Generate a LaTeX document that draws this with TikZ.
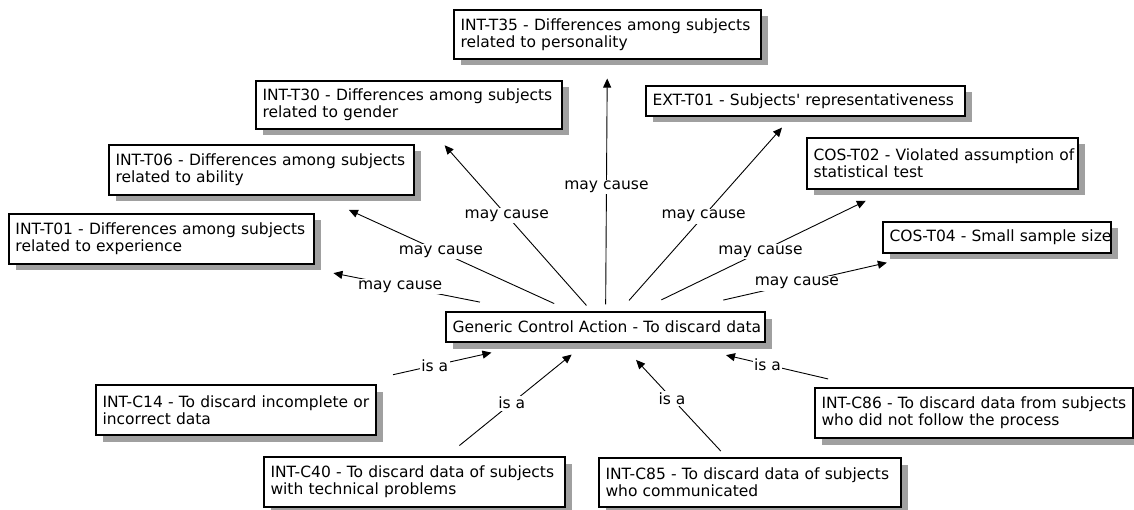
\documentclass[tikz,border=0pt]{standalone}
\usepackage{fontspec}
\setmainfont{DejaVu Sans}[Ligatures=TeXOff]
\usetikzlibrary{arrows.meta,shadows}
\definecolor{shadowgray}{HTML}{A0A0A0}
\newcommand\lbx[1]{\mbox{#1}}
\begin{document}
\begin{tikzpicture}[x=1pt,y=-1pt,
  txt/.style={font=\fontsize{15.5}{17}\selectfont},
  box/.style={txt, draw=black, line width=1.1pt, fill=white, align=left,
    inner xsep=6.5pt, inner ysep=0pt, anchor=center,
    drop shadow={shadow xshift=6.5pt, shadow yshift=-6.5pt, fill=shadowgray, opacity=1}},
  arr/.style={-{Triangle[length=9pt,width=8pt]}, line width=0.9pt},
  lbl/.style={txt, fill=white, inner sep=1.5pt}
]
\useasboundingbox (0,0) rectangle (1134,510);

% top-side threats
\node[box, text width=294pt, minimum height=49pt] (t35) at (607.5,34.5) {\lbx{INT-T35 - Differences among subjects}\\\lbx{related to personality}};
\node[box, text width=293pt, minimum height=48pt] (t30) at (409,105) {\lbx{INT-T30 - Differences among subjects}\\\lbx{related to gender}};
\node[box, text width=292pt, minimum height=50pt] (t06) at (261.5,170) {\lbx{INT-T06 - Differences among subjects}\\\lbx{related to ability}};
\node[box, text width=292pt, minimum height=50pt] (t01) at (161.5,239) {\lbx{INT-T01 - Differences among subjects}\\\lbx{related to experience}};
\node[box, text width=306pt, minimum height=30pt] (ext) at (805.5,101) {\lbx{EXT-T01 - Subjects' representativeness}};
\node[box, text width=258pt, minimum height=51pt] (t02) at (942.5,163.5) {\lbx{COS-T02 - Violated assumption of}\\\lbx{statistical test}};
\node[box, text width=215pt, minimum height=31pt] (t04) at (997,237.5) {\lbx{COS-T04 - Small sample size}};

% central node
\node[box, text width=306pt, minimum height=30pt] (gen) at (605.5,327) {\lbx{Generic Control Action - To discard data}};

% bottom-side control actions
\node[box, text width=267pt, minimum height=50pt] (c14) at (236,410) {\lbx{INT-C14 - To discard incomplete or}\\\lbx{incorrect data}};
\node[box, text width=288pt, minimum height=50pt] (c40) at (414.5,482) {\lbx{INT-C40 - To discard data of subjects}\\\lbx{with technical problems}};
\node[box, text width=289pt, minimum height=49pt] (c85) at (750,482.5) {\lbx{INT-C85 - To discard data of subjects}\\\lbx{who communicated}};
\node[box, text width=305pt, minimum height=50pt] (c86) at (974,413) {\lbx{INT-C86 - To discard data from subjects}\\\lbx{who did not follow the process}};

% may cause
\draw[arr, shorten <=48pt, shorten >=44pt] (gen) -- node[lbl, pos=0.536]{may cause} (t01);
\draw[arr, shorten <=19pt, shorten >=34.6pt] (gen) -- node[lbl, pos=0.514]{may cause} (t06);
\draw[arr, shorten <=8pt, shorten >=21pt] (gen) -- node[lbl, pos=0.528]{may cause} (t30);
\draw[arr, shorten <=7pt, shorten >=19pt] (gen) -- node[lbl, pos=0.494]{may cause} (t35);
\draw[arr, shorten <=14.7pt, shorten >=14.8pt] (gen) -- node[lbl, pos=0.489]{may cause} (ext);
\draw[arr, shorten <=26.5pt, shorten >=25.7pt] (gen) -- node[lbl, pos=0.489]{may cause} (t02);
\draw[arr, shorten <=51pt, shorten >=41pt] (gen) -- node[lbl, pos=0.487]{may cause} (t04);

% is a
\draw[arr, shorten <=44.4pt, shorten >=46pt] (c14) -- node[lbl, pos=0.456]{is a} (gen);
\draw[arr, shorten <=17.3pt, shorten >=19pt] (c40) -- node[lbl, pos=0.469]{is a} (gen);
\draw[arr, shorten <=8.7pt, shorten >=23.7pt] (c85) -- node[lbl, pos=0.513]{is a} (gen);
\draw[arr, shorten <=37.4pt, shorten >=55.3pt] (c86) -- node[lbl, pos=0.504]{is a} (gen);
\end{tikzpicture}
\end{document}
